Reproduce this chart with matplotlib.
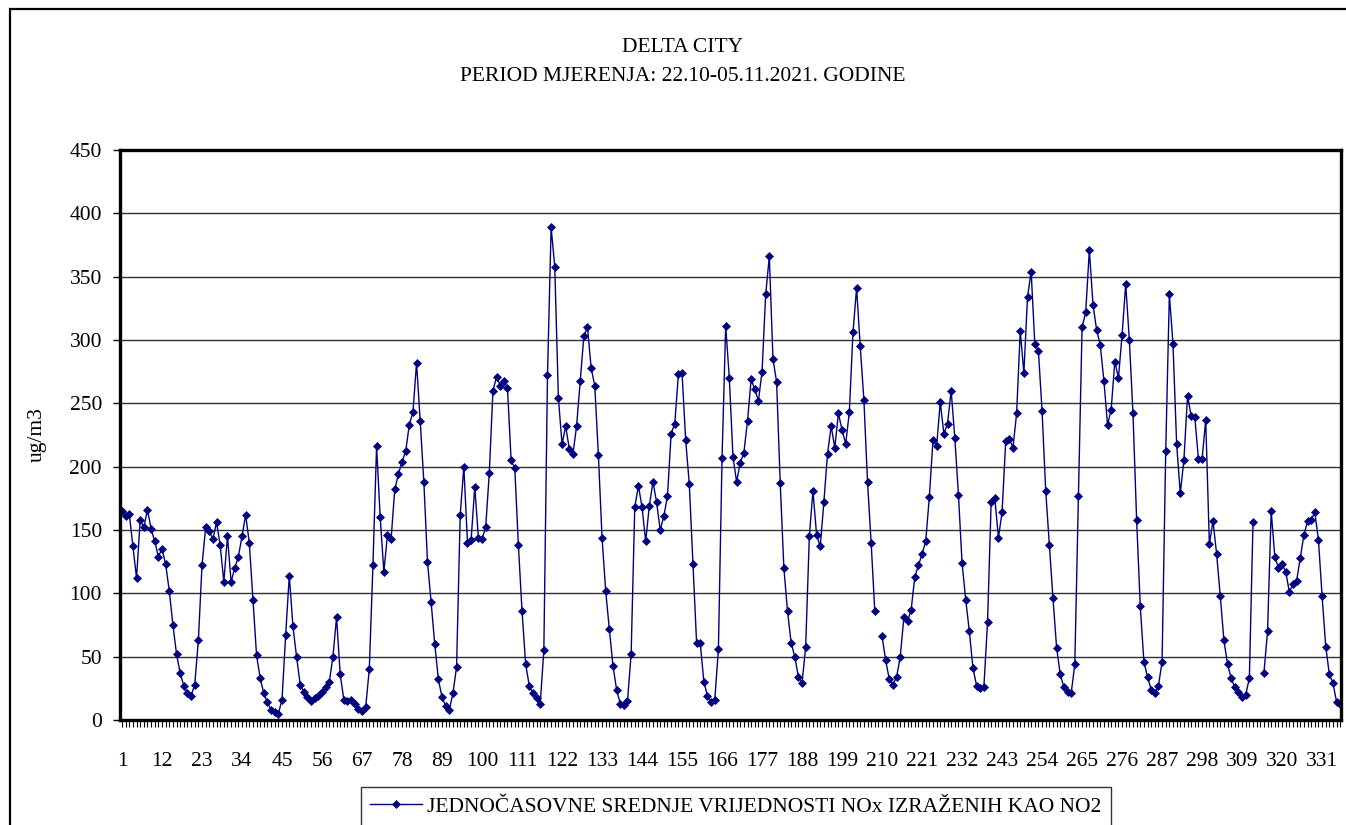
import numpy as np
import matplotlib.pyplot as plt
from matplotlib.patches import Rectangle
from matplotlib.ticker import MultipleLocator, FixedLocator

plt.rcParams['font.family'] = ['Liberation Serif', 'DejaVu Serif']

# hourly NOx values (ug/m3), hours 1..336; None = missing hour
nox = [
    165, 161, 163, 137, 112, 158, 152, 166, 151, 141,
    129, 135, 123, 102, 75, 52, 37, 27, 21, 19,
    28, 63, 122, 152, 149, 143, 156, 138, 109, 145,
    109, 120, 129, 145, 162, 140, 95, 51, 33, 21,
    14, 8, 6, 5, 16, 67, 114, 74, 50, 28,
    22, 18, 15, 17, 19, 22, 26, 30, 50, 81,
    36, 16, 15, 16, 13, 9, 7, 10, 40, 122,
    216, 160, 117, 146, 143, 182, 194, 204, 212, 233,
    243, 282, 236, 188, 125, 93, 60, 32, 18, 11,
    8, 21, 42, 162, 200, 140, 142, 184, 144, 143,
    152, 195, 260, 271, 264, 268, 262, 205, 199, 138,
    86, 44, 27, 21, 17, 13, 55, 272, 389, 358,
    254, 218, 232, 214, 210, 232, 268, 303, 310, 278,
    264, 209, 144, 102, 72, 43, 24, 13, 12, 15,
    52, 168, 185, 168, 141, 169, 188, 172, 150, 161,
    177, 226, 234, 273, 274, 221, 186, 123, 61, 61,
    30, 19, 14, 16, 56, 207, 311, 270, 208, 188,
    203, 211, 236, 269, 261, 252, 275, 336, 366, 285,
    267, 187, 120, 86, 61, 50, 34, 29, 58, 145,
    181, 146, 137, 172, 210, 232, 215, 242, 229, 218,
    243, 306, 341, 295, 253, 188, 140, 86, None, 66,
    47, 32, 28, 34, 50, 81, 78, 87, 113, 122,
    131, 141, 176, 221, 216, 251, 226, 234, 260, 223,
    178, 124, 95, 70, 41, 27, 25, 26, 77, 172,
    175, 144, 164, 220, 222, 215, 242, 307, 274, 334,
    354, 297, 291, 244, 181, 138, 96, 57, 36, 26,
    22, 21, 44, 177, 310, 322, 371, 328, 308, 296,
    268, 233, 245, 283, 270, 304, 344, 300, 242, 158,
    90, 46, 34, 24, 21, 27, 46, 212, 336, 297,
    218, 179, 205, 256, 240, 239, 206, 206, 237, 139,
    157, 131, 98, 63, 44, 33, 26, 22, 18, 20,
    33, 156, None, None, 37, 70, 165, 129, 120, 123,
    117, 101, 107, 110, 128, 146, 157, 158, 164, 142,
    98, 58, 36, 29, 14, 13,
]
hours = np.arange(1, len(nox) + 1)
label_hours = list(range(1, len(nox) + 1, 11))

title = "DELTA CITY\nPERIOD MJERENJA: 22.10-05.11.2021. GODINE"
series_name = "JEDNOČASOVNE SREDNJE VRIJEDNOSTI NOx IZRAŽENIH KAO NO2"
fs = 15.5

W, H = 1346, 825
fig = plt.figure(figsize=(W / 100, H / 100), dpi=100)

# outer chart frame (right and bottom fall outside the picture)
fig.patches.append(Rectangle((10 / W, -0.2), 2, 1 - 9 / H + 0.2, transform=fig.transFigure,
                             fill=False, edgecolor='black', linewidth=1.6, clip_on=False))

ax = fig.add_axes([120 / W, 1 - 720 / H, (1341 - 120) / W, (720 - 150) / H])

y = np.array([np.nan if v is None else v for v in nox], dtype=float)
ax.plot(hours, y, color='#000080', linewidth=1.0, marker='D', markersize=4.5,
        markeredgewidth=0.5, label=series_name)

ax.set_xlim(0.45, 336.2)
ax.set_ylim(0, 450)
ax.yaxis.set_major_locator(MultipleLocator(50))
ax.xaxis.set_major_locator(FixedLocator(label_hours))
ax.xaxis.set_minor_locator(MultipleLocator(1))
ax.set_xticklabels([str(h) for h in label_hours])
ax.grid(axis='y', color='#303030', linewidth=1.0)
ax.set_axisbelow(True)

for s in ax.spines.values():
    s.set_linewidth(2.4)
ax.tick_params(axis='y', direction='out', length=5, width=1, pad=8, labelsize=fs)
ax.tick_params(axis='x', which='major', direction='out', length=5, width=0.8, pad=18,
               labelsize=fs)
ax.tick_params(axis='x', which='minor', direction='out', length=5, width=0.8)

ax.set_ylabel("ug/m3", fontsize=fs, labelpad=16)
fig.text(683 / W, 1 - 62 / H, title, ha='center', va='center', fontsize=fs,
         linespacing=1.75)

leg = fig.legend(loc='upper center', bbox_to_anchor=(736 / W, 1 - 787 / H), fontsize=fs,
                 frameon=True, fancybox=False, edgecolor='black', handlelength=2.4,
                 borderpad=0.45, handletextpad=0.25, borderaxespad=0)
leg.get_frame().set_linewidth(1.0)

fig.savefig("out.png", dpi=100)
